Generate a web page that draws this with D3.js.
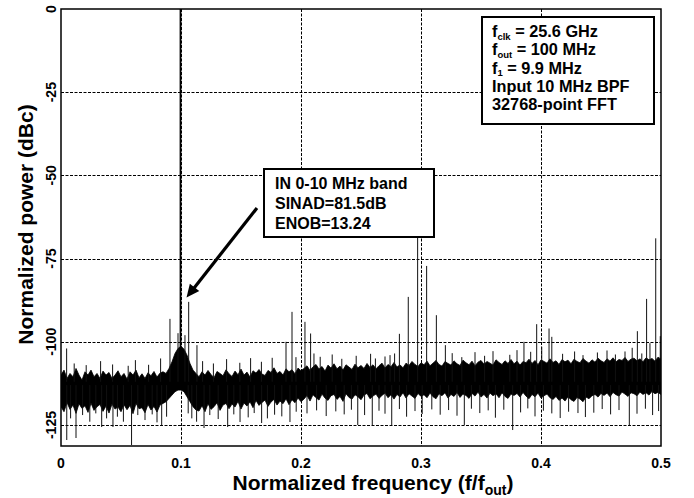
<!DOCTYPE html>
<html><head><meta charset="utf-8">
<script src="https://cdn.jsdelivr.net/npm/d3@7"></script>
<style>
body{margin:0;background:#fff}
svg{display:block}
text{font-family:"Liberation Sans",Arial,Helvetica,sans-serif;font-weight:bold;fill:#000}
</style>
</head><body>
<svg id="chart" width="694" height="498"></svg>
<script>
// ---------- data ----------
const xTicks = [0, 0.1, 0.2, 0.3, 0.4, 0.5];
const xTickLabels = ["0", "0.1", "0.2", "0.3", "0.4", "0.5"];
const yTicks = [0, -25, -50, -75, -100, -125];
const yTickLabels = ["0", "-25", "-50", "-75", "-100", "-125"];
const xGrid = [0.1, 0.2, 0.3, 0.4];
const yGrid = [-25, -50, -75, -100, -125];

// noise floor envelope, one value per 0.0025 of normalized frequency (0 .. 0.5)
const binStep = 0.0025;
const floorTop = [
 -110,-108.5,-111,-109.5,-110.5,-108,-110,-111.5,-109,-110,
 -108.5,-110.5,-109.5,-111,-108.8,-110,-109.2,-111,-110,-108.7,
 -110.5,-109.5,-111.2,-109,-110,-108.5,-110.8,-109.6,-111,-109.3,
 -110.2,-108.9,-110.6,-109.4,-109,-109.5,-108,-106,-103.5,-102,
 -101.3,-102.2,-104,-106.5,-108.5,-109.5,-110.5,-109,-110,-108.6,
 -109.8,-110.8,-108.9,-109.5,-110.2,-108.4,-109.6,-110.4,-108.8,-109.9,
 -108.2,-110,-109.1,-110.6,-108.7,-109.4,-108.3,-109.7,-110.1,-108.6,
 -109.2,-107.8,-109.5,-108.9,-110,-108.1,-109,-108.4,-109.6,-107.9,
 -108.7,-108,-107.2,-108.6,-107.5,-106.8,-108.2,-107.4,-108.8,-107,
 -107.9,-106.6,-108.1,-107.3,-108.5,-106.9,-107.6,-108.3,-106.7,-107.8,
 -107.1,-108,-106.5,-107.7,-106.9,-108.1,-107.2,-106.4,-107.9,-106.8,
 -107.5,-106.2,-107.6,-106.9,-107.8,-106.4,-107.1,-105.9,-106.8,-107.4,
 -106.3,-106.9,-105.8,-107.2,-106.4,-105.6,-106.8,-107.3,-105.9,-106.5,
 -107,-105.7,-106.6,-107.1,-105.5,-106.3,-106.9,-105.8,-107.2,-106.1,
 -105.6,-106.7,-105.9,-106.4,-107,-105.4,-106.2,-106.8,-105.7,-106.5,
 -105.3,-106.6,-105.8,-107,-105.9,-106.3,-105.2,-106.5,-105.6,-106.9,
 -105.4,-105.9,-106.4,-105.1,-106.2,-105.7,-106.8,-105.3,-106,-105.5,
 -106.6,-105.2,-105.9,-106.3,-105,-105.8,-106.4,-105.4,-106.1,-104.9,
 -105.7,-106.2,-105.1,-105.8,-104.8,-106,-105.3,-105.6,-104.7,-105.9,
 -105.2,-104.9,-105.7,-105.1,-106,-104.8,-105.4,-105,-105.8,-104.6,
 -105.2
];
const floorBottom = [
 -119.5,-121,-118.2,-120.3,-119,-121.5,-118.6,-120,-119.2,-121.2,
 -118.4,-120.6,-119.5,-118.8,-120.9,-119.3,-121.4,-118.7,-120.2,-119.6,
 -121,-118.9,-120.4,-119.1,-121.6,-118.5,-120.1,-119.8,-121.3,-118.8,
 -120.5,-119.4,-121.1,-119,-118.5,-118,-117,-116,-115,-114.5,
 -114.5,-115,-116.5,-118,-119.5,-120.5,-120.8,-119.2,-121,-118.6,
 -120.3,-119.5,-118.3,-120.6,-119,-118.5,-120.1,-118.7,-119.6,-117.9,
 -120.2,-118.4,-119.3,-118,-119.8,-117.6,-119.1,-118.2,-117.5,-119.4,
 -118.1,-117.3,-119,-117.8,-118.6,-117.1,-118.9,-117.4,-118.3,-116.9,
 -118,-117.2,-116.1,-117.8,-115.9,-116.8,-117.5,-115.7,-116.9,-117.6,
 -116.2,-115.8,-117.3,-116.4,-117.9,-115.6,-116.7,-117.2,-115.9,-116.5,
 -117.4,-116,-115.5,-117.1,-116.3,-115.7,-117,-116.1,-115.4,-116.8,
 -115.9,-117.2,-115.8,-116.6,-115.3,-116.9,-115.6,-116.3,-117,-115.5,
 -116.4,-115.9,-116.8,-115.4,-116.5,-117.1,-115.6,-116.2,-115.3,-116.9,
 -115.8,-116.4,-115.2,-116.7,-115.7,-116.1,-117,-115.5,-116.3,-115.1,
 -116.6,-115.8,-116.9,-115.4,-116.2,-115.6,-116.8,-115.3,-116.4,-117,
 -115.7,-116.1,-115.5,-116.6,-115.2,-116.3,-117.1,-115.8,-116.5,-115.4,
 -116.9,-116.2,-115.7,-116.8,-117.3,-116.4,-117.6,-116.9,-117.8,-116.5,
 -117.4,-117.9,-116.7,-117.2,-118,-116.6,-117.1,-116.2,-115.8,-116.6,
 -115.5,-116.1,-115.4,-116.5,-115.2,-115.9,-116.3,-115.1,-115.7,-116.4,
 -115.3,-115.6,-116.2,-115.1,-115.8,-115.3,-116,-114.9,-115.6,-115.2,
 -115.8
];

// fundamental tone
const carrierFreq = 0.1;
const carrierLevel = 0;

// spurious tones above the floor: [normalized freq, dBc]
const spurs = [
 [0.0047,-102],[0.011,-106.5],[0.021,-107],[0.033,-105.8],[0.043,-106.8],[0.056,-107.2],[0.062,-105.5],[0.073,-106.9],
 [0.083,-105],[0.0908,-93.1],[0.0975,-97.4],[0.1033,-98],[0.1064,-88],[0.1133,-101],
 [0.118,-105.8],[0.127,-106.5],[0.138,-105.2],[0.149,-106.3],[0.158,-104.9],[0.167,-106],[0.176,-104.8],
 [0.1875,-100],[0.1925,-91],[0.1958,-104.6],[0.2033,-94],[0.208,-97.5],[0.2108,-103.5],
 [0.216,-104.5],[0.226,-103.8],[0.234,-105.1],[0.246,-104.2],[0.258,-103.6],[0.262,-105],[0.27,-104.4],
 [0.2742,-104],[0.278,-103.5],[0.282,-97.6],[0.2894,-86.5],[0.2972,-68],[0.3047,-77.2],[0.3128,-92],[0.3203,-101],
 [0.326,-103.4],[0.334,-104.6],[0.345,-103.1],[0.353,-104.2],[0.36,-102.8],[0.374,-103.9],[0.38,-102.5],
 [0.3858,-100],[0.3914,-103],[0.3964,-94.7],[0.4006,-101.5],[0.4067,-96],[0.409,-98.5],
 [0.418,-103.6],[0.428,-102.9],[0.435,-104],[0.447,-103.2],[0.455,-102.6],[0.462,-103.8],[0.47,-102.9],[0.476,-101.8],
 [0.4803,-96.8],[0.484,-103.5],[0.488,-87.1],[0.4908,-100.4],[0.4956,-68.9],[0.4994,-98.3]
];
// dips below the floor: [normalized freq, dBc]
const dips = [
 [0.0048,-129.5],[0.008,-123],[0.0125,-128.9],[0.018,-122],[0.024,-124],[0.029,-121.5],[0.0339,-125.6],[0.038,-123],
 [0.0433,-125.6],[0.047,-122.5],[0.052,-124],[0.0588,-131],[0.064,-122],[0.07,-123.5],[0.076,-121.8],[0.08,-124.2],
 [0.0839,-125],[0.088,-122.5],[0.106,-121.5],[0.109,-123],[0.113,-124],[0.1192,-125.9],[0.124,-122],[0.131,-123.2],
 [0.1389,-125.6],[0.144,-121.8],[0.1492,-124.1],[0.156,-122.7],[0.161,-121.4],[0.1672,-124.4],[0.172,-123],[0.178,-121.9],
 [0.184,-122.4],[0.1908,-124.1],[0.196,-121],[0.205,-121.5],[0.213,-120.6],[0.221,-122.3],[0.229,-120.9],[0.236,-121.8],
 [0.242,-120.4],[0.2473,-125],[0.253,-122],[0.2594,-125],[0.265,-120.7],[0.27,-121.6],[0.2756,-125],[0.282,-120.2],
 [0.288,-122.5],[0.295,-120.8],[0.301,-121.7],[0.309,-120.3],[0.316,-121.9],[0.323,-120.5],[0.33,-122.2],[0.3361,-125],
 [0.342,-120.1],[0.349,-121.4],[0.356,-120.6],[0.362,-122.8],[0.369,-120.4],[0.3764,-126.5],[0.383,-121.2],[0.389,-120],
 [0.395,-122.4],[0.402,-120.7],[0.409,-121.5],[0.416,-122.9],[0.423,-121],[0.4308,-121.4],[0.437,-122.6],[0.444,-121.3],
 [0.451,-120.2],[0.458,-121.8],[0.465,-120.5],[0.4736,-125],[0.48,-121.6],[0.487,-120.1],[0.493,-122],[0.498,-120.8]
];

const xTitle = [["Normalized frequency (f/f",""],["out","sub"],[")",""]];
const yTitle = "Normalized power (dBc)";
const legendLines = [
 [["f",""],["clk","sub"],[" = 25.6 GHz",""]],
 [["f",""],["out","sub"],[" = 100 MHz",""]],
 [["f",""],["1","sub"],[" = 9.9 MHz",""]],
 [["Input 10 MHz BPF",""]],
 [["32768-point FFT",""]]
];
const noteLines = ["IN 0-10 MHz band", "SINAD=81.5dB", "ENOB=13.24"];

// ---------- layout ----------
const W = 694, H = 498;
const m = {left: 61, top: 9, right: 33, bottom: 52};
const pw = W - m.left - m.right;   // 600
const ph = H - m.top - m.bottom;   // 437

const x = d3.scaleLinear().domain([0, 0.5]).range([m.left, m.left + pw]);
const y = d3.scaleLinear().domain([0, -131.3]).range([m.top, m.top + ph]);

const svg = d3.select("#chart");
svg.append("rect").attr("width", W).attr("height", H).attr("fill", "#fff");

svg.append("clipPath").attr("id", "clip").append("rect")
  .attr("x", m.left).attr("y", m.top).attr("width", pw).attr("height", ph);

// grid
const grid = svg.append("g").attr("stroke", "#000").attr("stroke-width", 1).attr("stroke-dasharray", "3,1.5");
grid.selectAll("line.h").data(yGrid).join("line")
  .attr("x1", m.left).attr("x2", m.left + pw)
  .attr("y1", d => Math.round(y(d)) + 0.5).attr("y2", d => Math.round(y(d)) + 0.5);
grid.selectAll("line.v").data(xGrid).join("line")
  .attr("y1", m.top).attr("y2", m.top + ph)
  .attr("x1", d => Math.round(x(d)) + 0.5).attr("x2", d => Math.round(x(d)) + 0.5);

// data
const plot = svg.append("g").attr("clip-path", "url(#clip)");
const floorData = floorTop.map((t, i) => ({f: i * binStep, top: t, bot: floorBottom[i]}));
plot.append("path").datum(floorData)
  .attr("fill", "#000").attr("stroke", "#000").attr("stroke-width", 0.8)
  .attr("d", d3.area().curve(d3.curveLinear).x(d => x(d.f)).y0(d => y(d.bot)).y1(d => y(d.top)));

plot.selectAll("line.spur").data(spurs).join("line")
  .attr("stroke", "#111").attr("stroke-width", 1)
  .attr("x1", d => x(d[0])).attr("x2", d => x(d[0]))
  .attr("y1", y(-112)).attr("y2", d => y(d[1]));
plot.selectAll("line.dip").data(dips).join("line")
  .attr("stroke", "#111").attr("stroke-width", 1)
  .attr("x1", d => x(d[0])).attr("x2", d => x(d[0]))
  .attr("y1", y(-113)).attr("y2", d => y(d[1]));

plot.append("line")
  .attr("stroke", "#000").attr("stroke-width", 1.8)
  .attr("x1", x(carrierFreq) - 0.5).attr("x2", x(carrierFreq) - 0.5)
  .attr("y1", y(-112)).attr("y2", y(carrierLevel));

// frame
svg.append("rect").attr("x", m.left).attr("y", m.top).attr("width", pw).attr("height", ph)
  .attr("fill", "none").attr("stroke", "#000").attr("stroke-width", 1.5);

// tick labels
svg.append("g").selectAll("text").data(xTicks).join("text")
  .attr("x", d => x(d)).attr("y", m.top + ph + 21.5)
  .attr("text-anchor", "middle").attr("font-size", 14)
  .text((d, i) => xTickLabels[i]);
svg.append("g").selectAll("text").data(yTicks).join("text")
  .attr("transform", d => `translate(${m.left - 5},${y(d)}) rotate(-90)`)
  .attr("text-anchor", "middle").attr("font-size", 14)
  .text((d, i) => yTickLabels[i]);

// axis titles
const xt = svg.append("text").attr("x", m.left + pw / 2 + 12).attr("y", 490)
  .attr("text-anchor", "middle").attr("font-size", 21);
xTitle.forEach(([s, k]) => {
  const t = xt.append("tspan").text(s);
  if (k === "sub") t.attr("font-size", 14).attr("dy", 5);
  else if (xt.selectAll("tspan").size() > 1) t.attr("dy", -5);
});
svg.append("text").attr("transform", `translate(33,${m.top + ph / 2 - 3}) rotate(-90)`)
  .attr("text-anchor", "middle").attr("font-size", 21).text(yTitle);

// legend box
const lg = svg.append("g");
lg.append("rect").attr("x", 482).attr("y", 17).attr("width", 172).attr("height", 107)
  .attr("fill", "#fff").attr("stroke", "#000").attr("stroke-width", 2);
legendLines.forEach((parts, i) => {
  const t = lg.append("text").attr("x", 492).attr("y", 37 + i * 18.3).attr("font-size", 16.3);
  parts.forEach(([s, k], j) => {
    const ts = t.append("tspan").text(s);
    if (k === "sub") ts.attr("font-size", 9.5).attr("dy", 2.5);
    else if (j > 0) ts.attr("dy", -2.5);
  });
});

// annotation
const an = svg.append("g");
const arrow = {x1: x(0.1633), y1: y(-59.8), x2: x(0.1046), y2: y(-86.7)};
const ang = Math.atan2(arrow.y2 - arrow.y1, arrow.x2 - arrow.x1);
const hl = 13, hw = 6;
an.append("line").attr("x1", arrow.x1).attr("y1", arrow.y1)
  .attr("x2", arrow.x2 - Math.cos(ang) * (hl - 2)).attr("y2", arrow.y2 - Math.sin(ang) * (hl - 2))
  .attr("stroke", "#000").attr("stroke-width", 3.2);
const bx = arrow.x2 - Math.cos(ang) * hl, by = arrow.y2 - Math.sin(ang) * hl;
an.append("path").attr("fill", "#000").attr("d",
  `M${arrow.x2},${arrow.y2}L${bx + Math.sin(ang) * hw},${by - Math.cos(ang) * hw}L${bx - Math.sin(ang) * hw},${by + Math.cos(ang) * hw}Z`);
an.append("rect").attr("x", 264).attr("y", 169).attr("width", 170).attr("height", 68)
  .attr("fill", "#fff").attr("stroke", "#000").attr("stroke-width", 2);
noteLines.forEach((s, i) => {
  an.append("text").attr("x", 275).attr("y", 189 + i * 20).attr("font-size", 16).text(s);
});
</script>
</body></html>
